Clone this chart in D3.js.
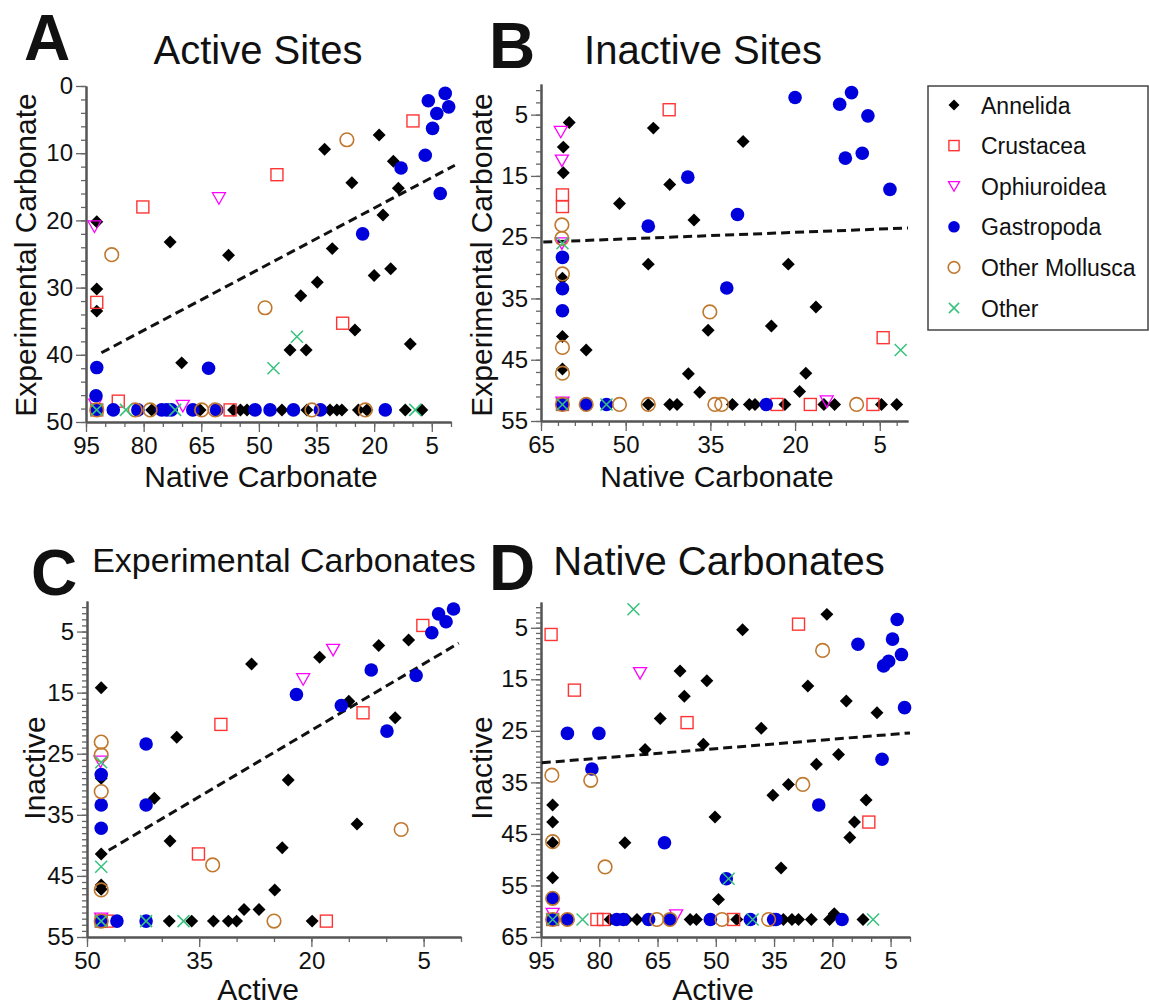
<!DOCTYPE html>
<meta charset="utf-8">
<script src="https://d3js.org/d3.v7.min.js"></script>
<style>
  body { margin: 0; background: #fff; }
  svg text { font-family: "Liberation Sans", Arial, Helvetica, sans-serif; fill: #111; }
</style>
<div id="chart"></div>
<script>

// ---- data: [x, y] per taxon and panel ----

// A: Active sites (x = native carbonate, y = experimental carbonate)
var aAnnelida = [[92.2,20.2],[73.1,23.2],[57.9,25.2],[18.7,7.3],[32.9,9.4],[15.0,11.2],[25.8,14.4],[13.7,15.2],[17.7,19.2],[30.9,24.2],[92.2,30.2],[92.2,33.5],[70.1,41.2],[20.0,28.2],[15.7,27.2],[34.8,29.2],[39.1,31.2],[25.0,36.3],[10.6,38.4],[41.9,39.3],[37.7,39.3],[92.2,48.2],[77.9,48.2],[65.3,48.2],[56.6,48.2],[54.8,48.2],[53.1,48.2],[44.0,48.2],[37.5,48.2],[31.5,48.2],[29.7,48.2],[28.4,48.2],[24.1,48.2],[21.9,48.2],[11.9,48.2],[7.6,48.2]];
var aCrustacea = [[80.2,18.0],[9.9,5.2],[45.3,13.2],[92.2,32.2],[86.6,46.9],[28.2,35.3],[92.2,48.2],[57.5,48.2]];
var aOphiuroidea = [[92.8,20.9],[60.4,16.7],[69.8,47.6],[92.6,47.4]];
var aGastropoda = [[5.9,2.2],[1.5,1.1],[0.6,3.1],[3.7,4.1],[4.8,6.3],[6.7,10.3],[2.8,16.0],[13.0,12.2],[23.0,22.0],[92.2,41.9],[63.1,42.0],[92.4,46.1],[92.2,48.2],[87.9,48.2],[81.5,48.2],[75.3,48.2],[74.0,48.2],[72.8,48.2],[67.2,48.2],[61.0,48.2],[51.0,48.2],[47.1,48.2],[41.0,48.2],[34.0,48.2],[17.1,48.2]];
var aMollusca = [[88.3,25.1],[27.1,8.0],[48.4,33.0],[92.2,48.2],[82.2,48.2],[78.3,48.2],[64.9,48.2],[61.4,48.2],[36.2,48.2],[22.3,48.2]];
var aOther = [[40.1,37.3],[46.2,42.0],[92.2,48.2],[84.6,48.2],[71.8,48.2],[9.3,48.2]];
var aFit = [[91,39.7],[-1,11.8]];

// B: Inactive sites
var bAnnelida = [[60.0,6.3],[61.05,10.3],[61.05,14.5],[45.1,7.2],[51.1,19.5],[42.2,16.4],[37.9,22.2],[46.0,29.4],[29.2,9.4],[21.2,29.4],[61.2,31.7],[61.2,41.2],[57.0,43.4],[61.2,46.5],[35.4,40.2],[38.9,47.3],[36.9,50.3],[16.3,36.4],[24.2,39.5],[18.1,47.2],[19.2,50.2],[46.0,52.3],[42.2,52.3],[40.9,52.3],[31.1,52.3],[28.1,52.3],[27.1,52.3],[21.8,52.3],[14.9,52.3],[13.0,52.3],[4.7,52.3],[2.0,52.3]];
var bCrustacea = [[61.2,18.1],[61.2,20.0],[42.3,4.2],[4.4,41.4],[61.2,52.3],[23.2,52.3],[17.3,52.3],[6.2,52.3]];
var bOphiuroidea = [[61.5,7.8],[61.3,12.5],[61.3,26.0],[61.2,52.0],[14.4,51.8]];
var bGastropoda = [[61.2,28.3],[61.2,33.4],[61.2,37.0],[39.0,15.2],[46.0,23.2],[20.0,2.2],[12.1,3.3],[10.0,1.4],[7.1,5.2],[8.1,11.3],[11.1,12.1],[3.2,17.2],[30.2,21.3],[32.1,33.3],[61.2,52.3],[57.0,52.3],[53.4,52.3],[25.1,52.3]];
var bMollusca = [[61.3,23.0],[61.3,25.2],[61.2,31.0],[61.2,43.0],[61.2,47.2],[35.1,37.2],[61.2,52.3],[57.0,52.3],[51.1,52.3],[46.0,52.3],[34.2,52.3],[33.0,52.3],[9.1,52.3]];
var bOther = [[61.2,26.0],[1.3,43.4],[61.2,52.3],[53.4,52.3]];
var bFit = [[64.6,25.8],[0,23.5]];

// C: Experimental carbonates (x = active, y = inactive)
var cAnnelida = [[7.0,6.4],[11.0,7.3],[18.9,9.2],[28.0,10.3],[15.0,16.4],[8.8,19.1],[38.0,22.3],[23.1,29.3],[41.0,32.3],[38.9,39.3],[23.9,40.4],[13.9,36.5],[24.9,47.3],[29.0,50.5],[27.0,50.5],[48.1,14.2],[48.1,29.0],[48.1,41.4],[48.1,46.5],[48.1,47.2],[48.1,52.4],[39.0,52.4],[36.0,52.4],[33.1,52.4],[31.1,52.4],[30.0,52.4],[19.9,52.4]];
var cCrustacea = [[5.1,4.0],[13.1,18.3],[32.1,20.2],[35.1,41.4],[18.0,52.4],[48.1,52.4],[47.3,52.4]];
var cOphiuroidea = [[17.1,8.0],[21.1,12.8],[48.2,26.3],[48.1,52.0]];
var cGastropoda = [[1.0,1.3],[3.0,2.1],[2.0,3.4],[3.9,5.2],[12.0,11.3],[6.0,12.2],[22.0,15.3],[16.0,17.1],[9.9,21.3],[42.1,23.4],[42.1,33.4],[48.1,28.4],[48.1,33.4],[48.1,37.2],[46.0,52.4],[48.1,52.4],[42.1,52.4]];
var cMollusca = [[48.1,23.1],[48.1,25.2],[48.1,31.2],[48.1,47.3],[33.2,43.2],[8.0,37.4],[25.0,52.4],[48.1,52.4]];
var cOther = [[48.1,26.4],[48.1,43.5],[48.1,52.4],[42.1,52.4],[37.1,52.4]];
var cFit = [[47.1,40.8],[0.3,6.9]];

// D: Native carbonates
var dAnnelida = [[21.4,2.4],[43.1,5.4],[59.2,13.4],[58.1,18.3],[52.3,15.3],[64.3,22.6],[68.2,28.6],[53.2,27.6],[38.3,24.5],[26.3,16.3],[16.4,19.2],[8.5,21.5],[18.4,29.6],[24.1,31.5],[31.3,35.4],[35.3,37.5],[11.3,38.4],[14.3,42.7],[15.5,45.7],[50.2,41.7],[73.4,46.7],[33.2,51.6],[49.3,57.7],[19.5,60.5],[92.0,39.4],[92.0,42.7],[92.0,46.7],[92.0,53.5],[77.2,61.6],[72.9,61.6],[70.3,61.6],[56.6,61.6],[55.0,61.6],[44.6,61.6],[32.6,61.6],[30.4,61.6],[28.7,61.6],[25.4,61.6],[20.7,61.6],[12.1,61.6]];
var dCrustacea = [[92.4,6.3],[86.4,17.1],[57.4,23.4],[28.7,4.3],[10.6,42.7],[92.0,61.6],[80.6,61.6],[78.9,61.6],[45.4,61.6]];
var dOphiuroidea = [[69.5,13.8],[60.2,60.8],[92.0,60.5]];
var dGastropoda = [[3.3,3.4],[4.5,7.2],[2.2,10.2],[5.5,11.5],[6.8,12.4],[13.4,8.2],[1.4,20.5],[7.2,30.5],[23.5,39.4],[63.2,46.7],[47.3,53.7],[88.2,25.5],[80.1,25.5],[81.9,32.4],[92.0,57.5],[92.0,61.6],[88.2,61.6],[75.5,61.6],[73.8,61.6],[67.3,61.6],[61.8,61.6],[51.4,61.6],[41.1,61.6],[35.1,61.6],[34.5,61.6],[17.5,61.6]];
var dMollusca = [[22.5,9.4],[92.2,33.6],[82.2,34.6],[27.6,35.4],[78.5,51.4],[92.0,46.5],[92.0,57.5],[92.0,61.6],[88.2,61.6],[65.2,61.6],[61.8,61.6],[48.4,61.6],[36.4,61.6]];
var dOther = [[71.2,1.4],[46.7,53.7],[92.0,61.6],[84.3,61.6],[40.5,61.6],[9.5,61.6]];
var dFit = [[94.8,31.2],[0,25.4]];

// tick labels
var aXTicks = [95,80,65,50,35,20,5], aYTicks = [0,10,20,30,40,50];
var bXTicks = [65,50,35,20,5],       bYTicks = [5,15,25,35,45,55];
var cXTicks = [50,35,20,5],          cYTicks = [5,15,25,35,45,55];
var dXTicks = [95,80,65,50,35,20,5], dYTicks = [5,15,25,35,45,55,65];

var species = ["Annelida","Crustacea","Ophiuroidea","Gastropoda","Other Mollusca","Other"];

// ---- drawing ----
var svg = d3.select("#chart").append("svg")
    .attr("width", 1149)
    .attr("height", 1005);

var font = 24;

function marker(g, kind, scale) {
    scale = scale || 1;
    if (kind == "Annelida") {
        g.append("path").attr("d", d3.symbol(d3.symbolSquare, 84 * scale * scale)())
            .attr("transform", "rotate(45)").attr("fill", "#000");
    } else if (kind == "Crustacea") {
        var s = 12 * scale;
        g.append("rect").attr("x", -s/2).attr("y", -s/2).attr("width", s).attr("height", s)
            .attr("fill", "none").attr("stroke", "#ff3535").attr("stroke-width", 1.4);
    } else if (kind == "Ophiuroidea") {
        var w = 6.5 * scale;
        g.append("path").attr("d", "M" + (-w) + "," + (-5.5*scale) + "L" + w + "," + (-5.5*scale) + "L0," + (6*scale) + "Z")
            .attr("fill", "none").attr("stroke", "#ff00ff").attr("stroke-width", 1.3);
    } else if (kind == "Gastropoda") {
        g.append("circle").attr("r", 6.8 * scale).attr("fill", "#0000dc");
    } else if (kind == "Other Mollusca") {
        g.append("circle").attr("r", 6.8 * scale).attr("fill", "none")
            .attr("stroke", "#c0782e").attr("stroke-width", 1.6);
    } else {
        var h = 6 * scale;
        g.append("path").attr("d", "M" + (-h) + "," + (-h) + "L" + h + "," + h + "M" + (-h) + "," + h + "L" + h + "," + (-h))
            .attr("stroke", "#35c27c").attr("stroke-width", 1.5);
    }
}

var panels = [
    {letter: "A", lx: 24, ly: 60, title: "Active Sites", tx: 258, ty: 64, tsize: 40,
     xr: [86, 451], yr: [86, 422], xd: [95, 0], yd: [0, 50],
     xt: aXTicks, yt: aYTicks, xm: d3.range(0, 96, 5), ym: d3.range(0, 51, 2),
     sets: [aAnnelida, aCrustacea, aOphiuroidea, aGastropoda, aMollusca, aOther], fit: aFit,
     xlab: "Native Carbonate", xlx: 261, xly: 487, ylab: "Experimental Carbonate", ylx: 36, yly: 255},
    {letter: "B", lx: 489, ly: 68, title: "Inactive Sites", tx: 703, ty: 64, tsize: 40,
     xr: [541, 908], yr: [84, 421], xd: [65, 0], yd: [0, 55],
     xt: bXTicks, yt: bYTicks, xm: d3.range(2, 66, 3), ym: d3.range(1, 56, 2),
     sets: [bAnnelida, bCrustacea, bOphiuroidea, bGastropoda, bMollusca, bOther], fit: bFit,
     xlab: "Native Carbonate", xlx: 717, xly: 487, ylab: "Experimental Carbonate", ylx: 492, yly: 255},
    {letter: "C", lx: 31, ly: 595, title: "Experimental Carbonates", tx: 284, ty: 572, tsize: 34,
     xr: [87, 461], yr: [601, 937], xd: [50, 0], yd: [0, 55],
     xt: cXTicks, yt: cYTicks, xm: d3.range(0, 51, 5), ym: d3.range(1, 56, 1),
     sets: [cAnnelida, cCrustacea, cOphiuroidea, cGastropoda, cMollusca, cOther], fit: cFit,
     xlab: "Active", xlx: 258, xly: 1000, ylab: "Inactive", ylx: 45, yly: 768},
    {letter: "D", lx: 489, ly: 590, title: "Native Carbonates", tx: 719, ty: 575, tsize: 40,
     xr: [541, 910], yr: [602, 937], xd: [95, 0], yd: [0, 65],
     xt: dXTicks, yt: dYTicks, xm: d3.range(0, 96, 5), ym: d3.range(1, 66, 1),
     sets: [dAnnelida, dCrustacea, dOphiuroidea, dGastropoda, dMollusca, dOther], fit: dFit,
     xlab: "Active", xlx: 713, xly: 1000, ylab: "Inactive", ylx: 492, yly: 768}
];

panels.forEach(function(p) {
    var x = d3.scaleLinear().domain(p.xd).range(p.xr);
    var y = d3.scaleLinear().domain(p.yd).range(p.yr);
    var g = svg.append("g");

    // minor ticks
    g.append("g").attr("transform", "translate(0," + p.yr[1] + ")")
        .call(d3.axisBottom(x).tickValues(p.xm).tickSize(5).tickSizeOuter(0).tickFormat(""));
    g.append("g").attr("transform", "translate(" + p.xr[0] + ",0)")
        .call(d3.axisLeft(y).tickValues(p.ym).tickSize(5).tickSizeOuter(0).tickFormat(""));
    // major ticks
    g.append("g").attr("transform", "translate(0," + p.yr[1] + ")")
        .call(d3.axisBottom(x).tickValues(p.xt).tickSize(10).tickSizeOuter(0).tickPadding(5));
    g.append("g").attr("transform", "translate(" + p.xr[0] + ",0)")
        .call(d3.axisLeft(y).tickValues(p.yt).tickSize(10).tickSizeOuter(0).tickPadding(3));

    g.selectAll(".domain").attr("stroke", "#555").attr("stroke-width", 2);
    g.selectAll(".tick line").attr("stroke", "#666").attr("stroke-width", 1.3);
    g.selectAll(".tick text").style("font-size", font + "px").attr("fill", "#111");

    // regression line
    g.append("line")
        .attr("x1", x(p.fit[0][0])).attr("y1", y(p.fit[0][1]))
        .attr("x2", x(p.fit[1][0])).attr("y2", y(p.fit[1][1]))
        .attr("stroke", "#111").attr("stroke-width", 3).attr("stroke-dasharray", "9,5");

    // points
    p.sets.forEach(function(set, i) {
        g.selectAll(null).data(set).enter().append("g")
            .attr("transform", function(d) { return "translate(" + x(d[0]) + "," + y(d[1]) + ")"; })
            .each(function() { marker(d3.select(this), species[i]); });
    });

    // texts
    svg.append("text").attr("x", p.lx).attr("y", p.ly).text(p.letter)
        .style("font-size", "64px").style("font-weight", "bold");
    svg.append("text").attr("x", p.tx).attr("y", p.ty).attr("text-anchor", "middle")
        .style("font-size", p.tsize + "px").text(p.title);
    svg.append("text").attr("x", p.xlx).attr("y", p.xly).attr("text-anchor", "middle")
        .style("font-size", "30px").text(p.xlab);
    svg.append("text").attr("transform", "translate(" + p.ylx + "," + p.yly + ")rotate(-90)")
        .attr("text-anchor", "middle").style("font-size", "30px").text(p.ylab);
});

// legend
var leg = svg.append("g");
leg.append("rect").attr("x", 928).attr("y", 86).attr("width", 220).attr("height", 244)
    .attr("fill", "none").attr("stroke", "#444").attr("stroke-width", 1.5);
species.forEach(function(s, i) {
    var yy = 105 + i * 40.6;
    var m = leg.append("g").attr("transform", "translate(954," + yy + ")");
    marker(m, s, 0.85);
    leg.append("text").attr("x", 981).attr("y", yy + 8.5).style("font-size", "23px").text(s);
});

</script>
